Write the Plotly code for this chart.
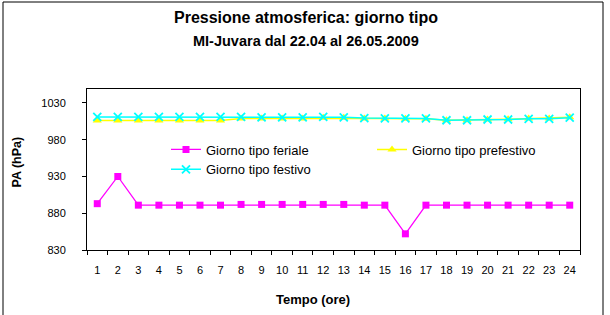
import plotly.graph_objects as go

hours = [str(h) for h in range(1, 25)]
feriale = [893, 930, 891, 891, 891, 891, 891, 892, 892, 892, 892, 892, 892,
           891, 891, 852, 891, 891, 891, 891, 891, 891, 891, 891]
prefestivo = [1006, 1006, 1006, 1006, 1006, 1006, 1006, 1009, 1009, 1009, 1009, 1010, 1010,
              1009, 1009, 1008.5, 1008.5, 1006.5, 1006.5, 1007.5, 1008, 1009, 1009, 1010.5]
festivo = [1011, 1011, 1011, 1011, 1011, 1011, 1011, 1011, 1010.5, 1010.5, 1010.5, 1011, 1010.5,
           1009.5, 1009, 1009, 1009, 1006.5, 1006.5, 1007.5, 1007.5, 1008.5, 1008.5, 1010]
y_ticks = [830, 880, 930, 980, 1030]

W, H = 610, 315
ML, MR, MT, MB = 87, 30, 89, 65
PW, PH = W - ML - MR, H - MT - MB


def px(x):
    return (x - ML) / PW


def py(y):
    return (H - MB - y) / PH


FONT = "Liberation Sans, Arial, sans-serif"

fig = go.Figure()
fig.add_trace(go.Scatter(
    x=hours, y=feriale, name="Giorno tipo feriale", mode="lines+markers",
    line=dict(color="#FF00FF", width=1.3),
    marker=dict(symbol="square", size=7, color="#FF00FF"),
    legend="legend"))
fig.add_trace(go.Scatter(
    x=hours, y=prefestivo, name="Giorno tipo prefestivo", mode="lines+markers",
    line=dict(color="#FFFF00", width=1.5),
    marker=dict(symbol="triangle-up", size=8, color="#FFFF00"),
    legend="legend2"))
fig.add_trace(go.Scatter(
    x=hours, y=festivo, name="Giorno tipo festivo", mode="lines+markers",
    line=dict(color="#00FFFF", width=1.5),
    marker=dict(symbol="x-thin", size=8, color="#00FFFF",
                line=dict(color="#00FFFF", width=1.8)),
    legend="legend"))

fig.update_layout(
    width=W, height=H,
    margin=dict(l=ML, r=MR, t=MT, b=MB, autoexpand=False),
    paper_bgcolor="white", plot_bgcolor="white",
    font=dict(family=FONT, size=10, color="black"),
    showlegend=True,
    legend=dict(x=px(166), y=py(159.5), xanchor="left", yanchor="middle",
                bgcolor="rgba(0,0,0,0)", font=dict(size=13, family=FONT),
                tracegroupgap=0, itemwidth=30),
    legend2=dict(x=px(372), y=py(149.5), xanchor="left", yanchor="middle",
                 bgcolor="rgba(0,0,0,0)", font=dict(size=13, family=FONT),
                 itemwidth=30),
    xaxis=dict(type="category", range=[-0.5, 23.5], showgrid=False, automargin=False,
               showline=True, linecolor="black", linewidth=1, mirror=True,
               ticks="outside", ticklen=4, tickcolor="black", tickson="boundaries",
               tickangle=0, ticklabelstandoff=10, tickfont=dict(size=11)),
    yaxis=dict(range=[830, 1049], tickvals=y_ticks, showgrid=False, zeroline=False,
               automargin=False,
               showline=True, linecolor="black", linewidth=1, mirror=True,
               ticks="outside", ticklen=4, tickcolor="black", ticklabelstandoff=14,
               tickfont=dict(size=11)),
)

fig.add_annotation(text="<b>Pressione atmosferica: giorno tipo</b>", xref="paper", yref="paper",
                   x=px(306), y=py(18), xanchor="center", yanchor="middle",
                   showarrow=False, font=dict(size=16, family=FONT))
fig.add_annotation(text="<b>MI-Juvara dal 22.04 al 26.05.2009</b>", xref="paper", yref="paper",
                   x=px(306), y=py(41), xanchor="center", yanchor="middle",
                   showarrow=False, font=dict(size=14.5, family=FONT))
fig.add_annotation(text="<b>Tempo (ore)</b>", xref="paper", yref="paper",
                   x=px(313), y=py(299), xanchor="center", yanchor="middle",
                   showarrow=False, font=dict(size=13, family=FONT))
fig.add_annotation(text="<b>PA (hPa)</b>", xref="paper", yref="paper",
                   x=px(16.5), y=py(162), xanchor="center", yanchor="middle",
                   textangle=-90, showarrow=False, font=dict(size=12.5, family=FONT))

fig.add_shape(type="rect", xref="paper", yref="paper",
              x0=px(3), x1=px(603), y0=py(2), y1=py(320),
              line=dict(color="black", width=1), fillcolor="rgba(0,0,0,0)", layer="below")

fig.write_html("out.html", config={"displayModeBar": False},
               post_script="document.body.style.margin='0';document.body.style.overflow='hidden';")
